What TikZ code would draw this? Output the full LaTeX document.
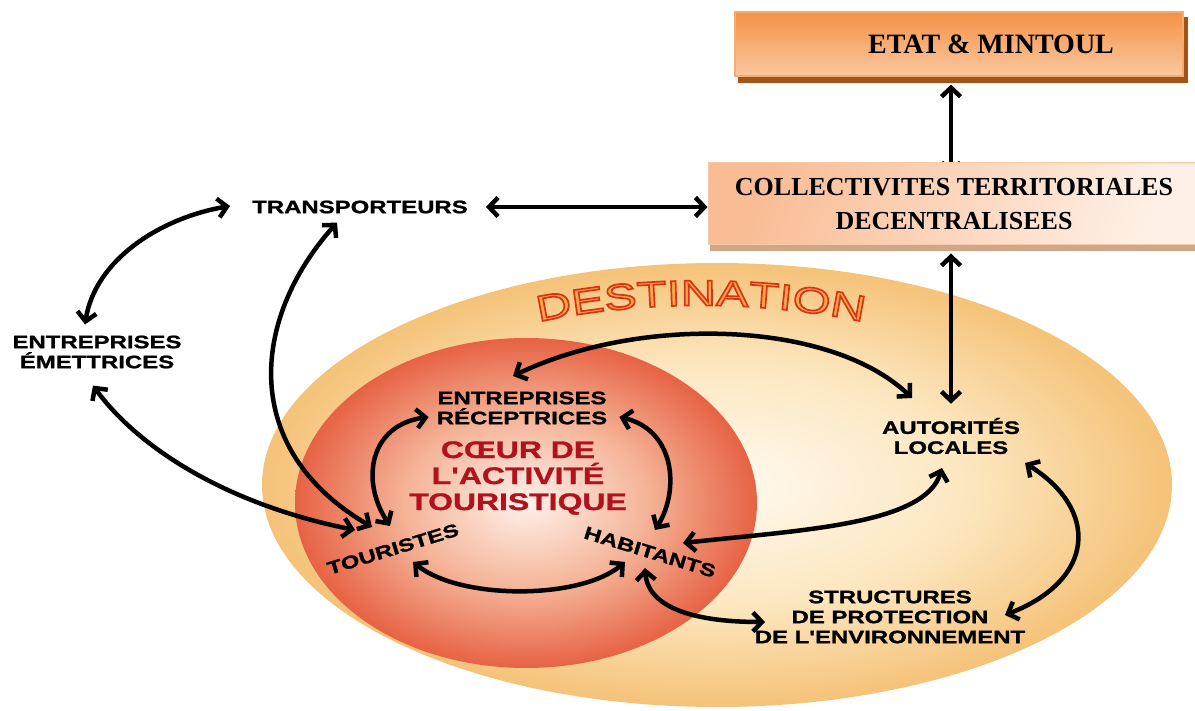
\documentclass[tikz,border=0pt]{standalone}
\usepackage{fontspec}
\setmainfont{Liberation Serif}
\newfontfamily\lblfont[FakeStretch=1.33,FakeBold=1.2]{Liberation Sans}
\newfontfamily\destfont[FakeStretch=1.35]{Liberation Sans}
\usetikzlibrary{arrows.meta,shapes.geometric,decorations.text}
\pgfdeclarelayer{back}
\pgfsetlayers{back,main}
\definecolor{dA}{RGB}{255,250,241}
\definecolor{dB}{RGB}{252,230,190}
\definecolor{dC}{RGB}{245,194,120}
\definecolor{cA}{RGB}{254,241,234}
\definecolor{cB}{RGB}{245,180,152}
\definecolor{cC}{RGB}{231,98,68}
\definecolor{coeurred}{RGB}{178,18,30}
\definecolor{etatA}{RGB}{244,146,70}
\definecolor{etatB}{RGB}{250,200,160}
\definecolor{etatline}{RGB}{246,172,112}
\definecolor{etatshadow}{RGB}{163,84,22}
\definecolor{ctdA}{RGB}{249,188,148}
\definecolor{ctdB}{RGB}{254,240,230}
\definecolor{ctdline}{RGB}{249,200,165}
\definecolor{ctdshadow}{RGB}{207,166,136}
\definecolor{destfill}{RGB}{248,168,78}
\pgfdeclareradialshading{destsh}{\pgfpoint{0bp}{0bp}}{color(0bp)=(dA); color(14bp)=(dB); color(25bp)=(dC); color(50bp)=(dC)}
\pgfdeclareradialshading{coeursh}{\pgfpoint{0bp}{0bp}}{color(0bp)=(cA); color(13bp)=(cB); color(25bp)=(cC); color(50bp)=(cC)}
\newcommand\destfmt{\destfont\fontsize{36}{36}\selectfont\color{destfill}\special{pdf:literal direct 0.85 0.2 0.08 RG 1.7 w 2 Tr}}
\begin{document}
\begin{tikzpicture}[x=1pt,y=-1pt,
  barb/.tip={Straight Barb[length=9pt,width=19pt]},
  arr/.style={line width=4.5pt, draw=black, barb-barb},
  lbl/.style={font=\lblfont\bfseries\fontsize{18}{20}\selectfont, align=center, inner sep=0pt, text=black},
  coeurtxt/.style={font=\lblfont\bfseries\fontsize{24}{26}\selectfont, align=center, inner sep=0pt, text=coeurred},
  boxtxt/.style={font=\bfseries\fontsize{26}{34}\selectfont, align=center, inner sep=0pt, text=black}]
\useasboundingbox (0,0) rectangle (1195,711);
% destination and core
\node[ellipse, minimum width=910pt, minimum height=444pt, inner sep=0pt, shading=destsh, shade] (dest) at (717,485) {};
\node[ellipse, minimum width=462pt, minimum height=330pt, inner sep=0pt, shading=coeursh, shade] (coeur) at (526,503) {};
\path[decorate, decoration={text along path, text={|\destfmt|DESTINATION}, text align=center}]
  (538,322) .. controls (640,300) and (760,300) .. (864,322);
% boxes
\node[draw=etatline, line width=1.2pt, top color=etatA, bottom color=etatB,
  minimum width=448pt, minimum height=64pt, inner sep=0pt, boxtxt, font=\bfseries\fontsize{28}{34}\selectfont]
  (etat) at (959,44) {\hspace*{64pt}ETAT \& MINTOUL};
\node[draw=ctdline, line width=1pt, left color=ctdA, right color=ctdB, shading angle=70,
  minimum width=492pt, minimum height=82pt, inner sep=0pt, boxtxt]
  (ctd) at (954,204) {\raisebox{-3pt}{COLLECTIVITES TERRITORIALES}\\\raisebox{-3pt}{DECENTRALISEES}};
% labels
\node[lbl] (trans) at (360,207) {TRANSPORTEURS};
\node[lbl] (emet) at (97,352) {ENTREPRISES\\ÉMETTRICES};
\node[lbl] (recep) at (522,408) {ENTREPRISES\\RÉCEPTRICES};
\node[coeurtxt] (ctxt) at (518,478) {CŒUR DE\\L'ACTIVITÉ\\TOURISTIQUE};
\node[lbl, rotate=17] (tour) at (393,549) {TOURISTES};
\node[lbl, rotate=-17] (hab) at (650,552) {HABITANTS};
\node[lbl] (aut) at (951,436) {AUTORITÉS\\LOCALES};
\node[lbl] (struct) at (890,617) {STRUCTURES\\DE PROTECTION\\DE L'ENVIRONNEMENT};
% shadows and hidden connector
\begin{pgfonlayer}{back}
\fill[etatshadow] ([shift={(4,6)}]etat.north west) rectangle ([shift={(4,6)}]etat.south east);
\fill[ctdshadow] ([shift={(2,6)}]ctd.north west) rectangle ([shift={(2,6)}]ctd.south east);
\draw[arr] ([yshift=-8pt]etat.south -| aut) -- ([yshift=-12pt]ctd.north -| aut);
\end{pgfonlayer}
% connectors
\draw[arr] ([yshift=-8pt]ctd.south -| aut) -- ([yshift=14pt]aut.north);
\draw[arr] ([xshift=18pt]trans.east) -- (ctd.west |- trans);
\draw[arr] ([shift={(-22,-1)}]trans.west) .. controls (160,218) and (95,260) .. ([shift={(-12,-11)}]emet.north);
\draw[arr] ([shift={(-23,9)}]trans.south) .. controls (250,320) and (240,450) .. ([shift={(-21,-22)}]tour.center);
\draw[arr] ([shift={(-4,17)}]emet.south) .. controls (140,450) and (230,505) .. ([shift={(-38,-19)}]tour.center);
\draw[arr] ([shift={(-3,-23)}]tour.center) .. controls (360,480) and (370,425) .. ([shift={(-8,9)}]recep.west);
\draw[arr] ([shift={(12,9)}]recep.east) .. controls (675,430) and (680,490) .. ([shift={(5,-22)}]hab.center);
\draw[arr] ([shift={(20,13)}]tour.center) .. controls (460,600) and (580,600) .. ([shift={(-25,10)}]hab.center);
\draw[arr] ([shift={(-9,-32)}]recep.center) .. controls (640,315) and (830,320) .. ([shift={(-39,-38)}]aut.center);
\draw[arr] ([shift={(33,-9)}]hab.center) .. controls (800,530) and (925,525) .. ([shift={(-9,32)}]aut.center);
\draw[arr] ([shift={(74,27)}]aut.center) .. controls (1100,510) and (1095,580) .. ([shift={(115,-2)}]struct.center);
\draw[arr] ([shift={(-5,16)}]hab.center) .. controls (648,610) and (700,622) .. ([shift={(-125,5)}]struct.center);
\end{tikzpicture}
\end{document}
